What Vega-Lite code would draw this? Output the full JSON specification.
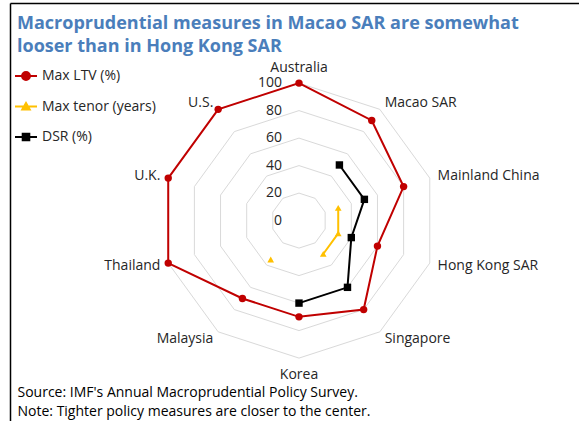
{
  "$schema": "https://vega.github.io/schema/vega-lite/v6.json",
  "width": 569,
  "height": 418,
  "autosize": {"type": "none"},
  "padding": {"left": 10, "top": 3, "right": 0, "bottom": 0},
  "background": "white",
  "config": {"view": {"stroke": null}, "font": "Open Sans"},
  "title": {
    "text": ["Macroprudential measures in Macao SAR are somewhat", "looser than in Hong Kong SAR"],
    "anchor": "start",
    "frame": "group",
    "orient": "top",
    "offset": 0,
    "dx": 7,
    "dy": 53,
    "baseline": "top",
    "font": "Open Sans",
    "fontSize": 18,
    "fontWeight": "bold",
    "color": "#4A7EBB",
    "lineHeight": 23
  },
  "datasets": {
    "rings": [
      {"r": 20, "a": [0,1,2,3,4,5,6,7,8,9,10]},
      {"r": 40, "a": [0,1,2,3,4,5,6,7,8,9,10]},
      {"r": 60, "a": [0,1,2,3,4,5,6,7,8,9,10]},
      {"r": 80, "a": [0,1,2,3,4,5,6,7,8,9,10]},
      {"r": 100, "a": [0,1,2,3,4,5,6,7,8,9,10]}
    ],
    "ticks": [{"r": 0}, {"r": 20}, {"r": 40}, {"r": 60}, {"r": 80}, {"r": 100}],
    "countries": [
      {"country": "Australia", "i": 0},
      {"country": "Macao SAR", "i": 1},
      {"country": "Mainland China", "i": 2},
      {"country": "Hong Kong SAR", "i": 3},
      {"country": "Singapore", "i": 4},
      {"country": "Korea", "i": 5},
      {"country": "Malaysia", "i": 6},
      {"country": "Thailand", "i": 7},
      {"country": "U.K.", "i": 8},
      {"country": "U.S.", "i": 9}
    ],
    "series": [
      {"series": "Max LTV (%)", "country": "Australia", "i": 0, "v": 100},
      {"series": "Max LTV (%)", "country": "Macao SAR", "i": 1, "v": 90},
      {"series": "Max LTV (%)", "country": "Mainland China", "i": 2, "v": 80},
      {"series": "Max LTV (%)", "country": "Hong Kong SAR", "i": 3, "v": 60},
      {"series": "Max LTV (%)", "country": "Singapore", "i": 4, "v": 80},
      {"series": "Max LTV (%)", "country": "Korea", "i": 5, "v": 70},
      {"series": "Max LTV (%)", "country": "Malaysia", "i": 6, "v": 70},
      {"series": "Max LTV (%)", "country": "Thailand", "i": 7, "v": 100},
      {"series": "Max LTV (%)", "country": "U.K.", "i": 8, "v": 100},
      {"series": "Max LTV (%)", "country": "U.S.", "i": 9, "v": 100},
      {"series": "Max tenor (years)", "country": "Mainland China", "i": 2, "v": 30},
      {"series": "Max tenor (years)", "country": "Hong Kong SAR", "i": 3, "v": 30},
      {"series": "Max tenor (years)", "country": "Singapore", "i": 4, "v": 30},
      {"series": "Max tenor (years)", "country": "Korea", "i": 5, "v": null},
      {"series": "Max tenor (years)", "country": "Malaysia", "i": 6, "v": 35},
      {"series": "DSR (%)", "country": "Macao SAR", "i": 1, "v": 50},
      {"series": "DSR (%)", "country": "Mainland China", "i": 2, "v": 50},
      {"series": "DSR (%)", "country": "Hong Kong SAR", "i": 3, "v": 40},
      {"series": "DSR (%)", "country": "Singapore", "i": 4, "v": 60},
      {"series": "DSR (%)", "country": "Korea", "i": 5, "v": 60}
    ]
  },
  "encoding": {
    "x": {
      "field": "px", "type": "quantitative",
      "scale": {"domain": [-210.18, 203.64], "nice": false, "zero": false},
      "axis": {
        "orient": "top", "domain": true, "domainColor": "#000000", "domainWidth": 1.5,
        "ticks": false, "labels": false, "grid": false,
        "title": ["Source: IMF's Annual Macroprudential Policy Survey.", "Note: Tighter policy measures are closer to the center."],
        "titleX": 7, "titleY": 382, "titleAlign": "left", "titleAnchor": "start", "titleBaseline": "top",
        "titleFont": "Open Sans", "titleFontSize": 14, "titleFontWeight": "normal", "titleColor": "#000000", "titleLineHeight": 19
      }
    },
    "y": {
      "field": "py", "type": "quantitative",
      "scale": {"domain": [-145.75, 158.25], "nice": false, "zero": false},
      "axis": {"orient": "left", "domain": true, "domainColor": "#000000", "domainWidth": 1.5, "ticks": false, "labels": false, "grid": false, "title": null}
    }
  },
  "layer": [
    {
      "data": {"name": "rings"},
      "transform": [
        {"flatten": ["a"]},
        {"calculate": "datum.r * sin(datum.a * PI / 5)", "as": "px"},
        {"calculate": "datum.r * cos(datum.a * PI / 5)", "as": "py"}
      ],
      "mark": {"type": "line", "stroke": "#D9D9D9", "strokeWidth": 1},
      "encoding": {"detail": {"field": "r"}, "order": {"field": "a"}}
    },
    {
      "data": {"name": "ticks"},
      "transform": [
        {"calculate": "0", "as": "px"},
        {"calculate": "datum.r", "as": "py"}
      ],
      "mark": {"type": "text", "align": "right", "baseline": "middle", "dx": -17, "fontSize": 14, "font": "Open Sans", "color": "#262626"},
      "encoding": {"text": {"field": "r"}}
    },
    {
      "data": {"name": "countries"},
      "transform": [
        {"filter": "datum.i == 0"},
        {"calculate": "106 * sin(datum.i * PI / 5)", "as": "px"},
        {"calculate": "106 * cos(datum.i * PI / 5)", "as": "py"}
      ],
      "mark": {"type": "text", "align": "center", "baseline": "bottom", "fontSize": 14, "font": "Open Sans", "color": "#262626"},
      "encoding": {"text": {"field": "country"}}
    },
    {
      "data": {"name": "countries"},
      "transform": [
        {"filter": "datum.i == 5"},
        {"calculate": "106 * sin(datum.i * PI / 5)", "as": "px"},
        {"calculate": "106 * cos(datum.i * PI / 5)", "as": "py"}
      ],
      "mark": {"type": "text", "align": "center", "baseline": "top", "dy": 2, "fontSize": 14, "font": "Open Sans", "color": "#262626"},
      "encoding": {"text": {"field": "country"}}
    },
    {
      "data": {"name": "countries"},
      "transform": [
        {"filter": "datum.i >= 1 && datum.i <= 4"},
        {"calculate": "106 * sin(datum.i * PI / 5)", "as": "px"},
        {"calculate": "106 * cos(datum.i * PI / 5)", "as": "py"}
      ],
      "mark": {"type": "text", "align": "left", "baseline": "middle", "fontSize": 14, "font": "Open Sans", "color": "#262626"},
      "encoding": {"text": {"field": "country"}}
    },
    {
      "data": {"name": "countries"},
      "transform": [
        {"filter": "datum.i >= 6"},
        {"calculate": "106 * sin(datum.i * PI / 5)", "as": "px"},
        {"calculate": "106 * cos(datum.i * PI / 5)", "as": "py"}
      ],
      "mark": {"type": "text", "align": "right", "baseline": "middle", "fontSize": 14, "font": "Open Sans", "color": "#262626"},
      "encoding": {"text": {"field": "country"}}
    },
    {
      "data": {"name": "series"},
      "transform": [
        {"filter": "datum.series == 'Max LTV (%)'"},
        {"calculate": "datum.v * sin(datum.i * PI / 5)", "as": "px"},
        {"calculate": "datum.v * cos(datum.i * PI / 5)", "as": "py"}
      ],
      "mark": {"type": "line", "interpolate": "linear-closed", "stroke": "#C00000", "strokeWidth": 2},
      "encoding": {"order": {"field": "i"}}
    },
    {
      "data": {"name": "series"},
      "transform": [
        {"filter": "datum.series == 'Max LTV (%)'"},
        {"calculate": "datum.v * sin(datum.i * PI / 5)", "as": "px"},
        {"calculate": "datum.v * cos(datum.i * PI / 5)", "as": "py"}
      ],
      "mark": {"type": "point", "shape": "circle", "filled": true, "size": 55, "color": "#C00000", "opacity": 1},
      "encoding": {}
    },
    {
      "data": {"name": "series"},
      "transform": [
        {"filter": "datum.series == 'Max tenor (years)'"},
        {"calculate": "datum.v == null ? null : datum.v * sin(datum.i * PI / 5)", "as": "px"},
        {"calculate": "datum.v == null ? null : datum.v * cos(datum.i * PI / 5)", "as": "py"}
      ],
      "mark": {"type": "line", "stroke": "#FFC000", "strokeWidth": 2, "invalid": "break-paths-filter-domains"},
      "encoding": {"order": {"field": "i"}}
    },
    {
      "data": {"name": "series"},
      "transform": [
        {"filter": "datum.series == 'Max tenor (years)' && datum.v != null"},
        {"calculate": "datum.v * sin(datum.i * PI / 5)", "as": "px"},
        {"calculate": "datum.v * cos(datum.i * PI / 5)", "as": "py"}
      ],
      "mark": {"type": "point", "shape": "triangle-up", "filled": true, "size": 45, "color": "#FFC000", "opacity": 1},
      "encoding": {}
    },
    {
      "data": {"name": "series"},
      "transform": [
        {"filter": "datum.series == 'DSR (%)'"},
        {"calculate": "datum.v * sin(datum.i * PI / 5)", "as": "px"},
        {"calculate": "datum.v * cos(datum.i * PI / 5)", "as": "py"}
      ],
      "mark": {"type": "line", "stroke": "#000000", "strokeWidth": 2},
      "encoding": {"order": {"field": "i"}}
    },
    {
      "data": {"name": "series"},
      "transform": [
        {"filter": "datum.series == 'DSR (%)'"},
        {"calculate": "datum.v * sin(datum.i * PI / 5)", "as": "px"},
        {"calculate": "datum.v * cos(datum.i * PI / 5)", "as": "py"}
      ],
      "mark": {"type": "point", "shape": "square", "filled": true, "size": 55, "color": "#000000", "opacity": 1},
      "encoding": {}
    },
    {
      "data": {"name": "series"},
      "transform": [
        {"filter": "datum.v != null"},
        {"calculate": "datum.v * sin(datum.i * PI / 5)", "as": "px"},
        {"calculate": "datum.v * cos(datum.i * PI / 5)", "as": "py"}
      ],
      "mark": {"type": "point", "filled": true, "opacity": 0},
      "encoding": {
        "color": {
          "field": "series", "type": "nominal",
          "scale": {"domain": ["Max LTV (%)", "Max tenor (years)", "DSR (%)"], "range": ["#C00000", "#FFC000", "#000000"]},
          "legend": {
            "orient": "none", "legendX": 4, "legendY": 61, "title": null, "padding": 0,
            "symbolSize": 484, "symbolStrokeWidth": 2, "symbolOpacity": 1,
            "labelFont": "Open Sans", "labelFontSize": 14, "labelColor": "#262626", "labelOffset": 4,
            "rowPadding": 10.5,
            "encode": {"symbols": {"update": {"stroke": {"scale": "color", "field": "value"}, "fill": {"scale": "color", "field": "value"}, "opacity": {"value": 1}, "strokeWidth": {"value": 2}}}}
          }
        },
        "shape": {
          "field": "series", "type": "nominal",
          "scale": {"domain": ["Max LTV (%)", "Max tenor (years)", "DSR (%)"], "range": [
            "M-1,0H1M-0.36,0A0.36,0.36 0 1,0 0.36,0A0.36,0.36 0 1,0 -0.36,0Z",
            "M-1,0H1M-0.34,0.28L0,-0.32L0.34,0.28Z",
            "M-1,0H1M-0.3,-0.3H0.3V0.3H-0.3Z"
          ]},
          "legend": {
            "orient": "none", "legendX": 4, "legendY": 61, "title": null, "padding": 0,
            "symbolSize": 484, "symbolStrokeWidth": 2, "symbolOpacity": 1,
            "labelFont": "Open Sans", "labelFontSize": 14, "labelColor": "#262626", "labelOffset": 4,
            "rowPadding": 10.5,
            "encode": {"symbols": {"update": {"stroke": {"scale": "color", "field": "value"}, "fill": {"scale": "color", "field": "value"}, "opacity": {"value": 1}, "strokeWidth": {"value": 2}}}}
          }
        }
      }
    }
  ]
}
